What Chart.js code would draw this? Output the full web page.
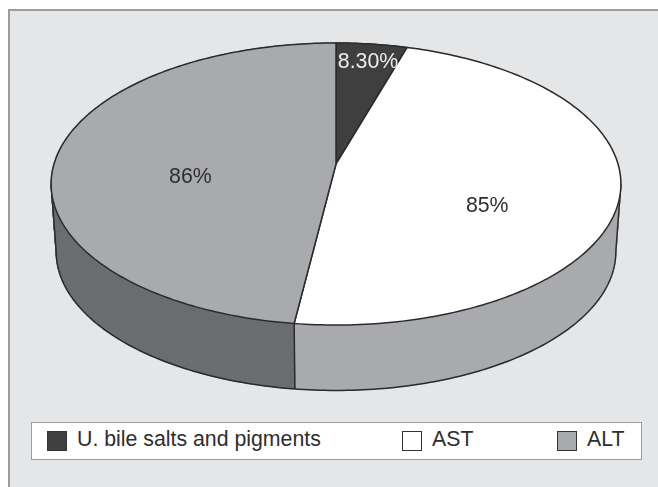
<!DOCTYPE html>
<html>
<head>
<meta charset="utf-8">
<script src="https://cdn.jsdelivr.net/npm/chart.js@4"></script>
<style>
    html, body { margin: 0; background: #fff; overflow: hidden; }
    #wrap { position: relative; width: 658px; height: 487px; }
    #panel { position: absolute; left: 8px; top: 9px; right: 0; bottom: 0; background: #e5e6e8;
             border-left: 2px solid #9b9c9e; border-top: 2px solid #9b9c9e; }
    #chart { position: absolute; left: 0; top: 0; }
    #legend { position: absolute; left: 31px; top: 422px; width: 609px; height: 36px; background: #fff;
              border: 1.5px solid #9d9ea0; box-sizing: content-box;
              font: 21.3px "Liberation Sans", Arial, sans-serif; color: #2e2e2e; }
    #legend .item { position: absolute; top: 8px; height: 21px; line-height: 21px; white-space: nowrap; }
    #legend .box { position: absolute; left: 0; top: 0; width: 18px; height: 18px; border: 1.5px solid #333; }
    #legend .txt { position: absolute; left: 30px; top: -2px; }
</style>
</head>
<body>
<div id="wrap">
    <div id="panel"></div>
    <canvas id="chart" width="658" height="487"></canvas>
    <div id="legend"></div>
</div>
<script>
const categories = ['U. bile salts and pigments', 'AST', 'ALT'];
const values = [8.3, 85, 86];
const valueLabels = ['8.30%', '85%', '86%'];
const faceColors = ['#3f3f40', '#ffffff', '#a9aaae'];
const wallColors = ['#2f2f30', '#a9aaae', '#6b6c70'];
const labelColors = ['#ececec', '#2e2e2e', '#2e2e2e'];

// left edge of each legend entry inside the legend frame
const legendLeft = [15, 370, 525];

// tilted disc: perspective projection of the unit circle, pixels
const cx = 336, apexY = 164, tilt = 0.1418;
const top3d = { rx: 282, ry: 138.2, y: apexY };
const bottom3d = { rx: 277, ry: 136, y: 232 };

// where each value label sits: radius fraction and a small nudge
const labelSpots = [[0.7, 6, -15], [0.55, -3, 26], [0.52, 0, 18]];

function project(theta, f, disc) {
    const X = Math.sin(theta) * f, Y = -Math.cos(theta) * f;
    const w = 1 - tilt * Y;
    return { x: cx + disc.rx * X / w, y: disc.y + disc.ry * Y / w };
}

function sweep(a0, a1) {
    const n = Math.max(2, Math.ceil(Math.abs(a1 - a0) * 60));
    const out = [];
    for (let i = 0; i <= n; i++) out.push(a0 + (a1 - a0) * i / n);
    return out;
}

const disc3d = {
    id: 'disc3d',
    beforeDatasetDraw(chart, args) {
        const ctx = chart.ctx;
        const arcs = args.meta.data.map(a => {
            const p = a.getProps(['startAngle', 'endAngle'], true);
            return { a0: p.startAngle + Math.PI / 2, a1: p.endAngle + Math.PI / 2 };
        });
        ctx.save();
        ctx.lineJoin = 'round';

        // side walls, back to front
        arcs.forEach((arc, i) => {
            const steps = sweep(arc.a0, arc.a1);
            ctx.fillStyle = wallColors[i];
            ctx.strokeStyle = wallColors[i];
            ctx.lineWidth = 1;
            for (let k = 0; k < steps.length - 1; k++) {
                const a = project(steps[k], 1, top3d), b = project(steps[k + 1], 1, top3d);
                const c = project(steps[k + 1], 1, bottom3d), d = project(steps[k], 1, bottom3d);
                ctx.beginPath();
                ctx.moveTo(a.x, a.y); ctx.lineTo(b.x, b.y); ctx.lineTo(c.x, c.y); ctx.lineTo(d.x, d.y);
                ctx.closePath();
                ctx.fill();
                ctx.stroke();
            }
        });

        // wall outline: silhouette edges, bottom rim, seam between the two visible walls
        const edgeR = Math.acos(-tilt), edgeL = 2 * Math.PI - edgeR;
        ctx.strokeStyle = '#2b2b2c';
        ctx.lineWidth = 1.5;
        ctx.beginPath();
        const tr = project(edgeR, 1, top3d);
        ctx.moveTo(tr.x, tr.y);
        sweep(edgeR, edgeL).forEach(t => {
            const p = project(t, 1, bottom3d);
            ctx.lineTo(p.x, p.y);
        });
        const tl = project(edgeL, 1, top3d);
        ctx.lineTo(tl.x, tl.y);
        const seamT = project(arcs[1].a1, 1, top3d), seamB = project(arcs[1].a1, 1, bottom3d);
        ctx.moveTo(seamT.x, seamT.y);
        ctx.lineTo(seamB.x, seamB.y);
        ctx.stroke();

        // top faces
        arcs.forEach((arc, i) => {
            ctx.beginPath();
            ctx.moveTo(cx, apexY);
            sweep(arc.a0, arc.a1).forEach(t => {
                const p = project(t, 1, top3d);
                ctx.lineTo(p.x, p.y);
            });
            ctx.closePath();
            ctx.fillStyle = faceColors[i];
            ctx.fill();
            ctx.stroke();
        });

        // value labels
        ctx.font = '21.3px "Liberation Sans", Arial, sans-serif';
        ctx.textAlign = 'center';
        ctx.textBaseline = 'middle';
        arcs.forEach((arc, i) => {
            const [f, dx, dy] = labelSpots[i];
            const p = project((arc.a0 + arc.a1) / 2, f, top3d);
            ctx.fillStyle = labelColors[i];
            ctx.fillText(valueLabels[i], p.x + dx, p.y + dy);
        });
        ctx.restore();
        return false; // the faces above replace the flat arcs
    }
};

const chart = new Chart(document.getElementById('chart'), {
    type: 'pie',
    data: {
        labels: categories,
        datasets: [{
            data: values,
            backgroundColor: faceColors,
            borderColor: '#333333',
            borderWidth: 1.5
        }]
    },
    options: {
        responsive: false,
        animation: false,
        plugins: {
            legend: { display: false },
            tooltip: { enabled: false }
        }
    },
    plugins: [disc3d]
});

// legend entries come from the chart itself
const legendEl = document.getElementById('legend');
Chart.overrides.pie.plugins.legend.labels.generateLabels(chart).forEach((item, i) => {
    const entry = document.createElement('div');
    entry.className = 'item';
    entry.style.left = legendLeft[i] + 'px';
    entry.innerHTML = '<span class="box" style="background:' + item.fillStyle + '"></span><span class="txt">' + item.text + '</span>';
    legendEl.appendChild(entry);
});
</script>
</body>
</html>
